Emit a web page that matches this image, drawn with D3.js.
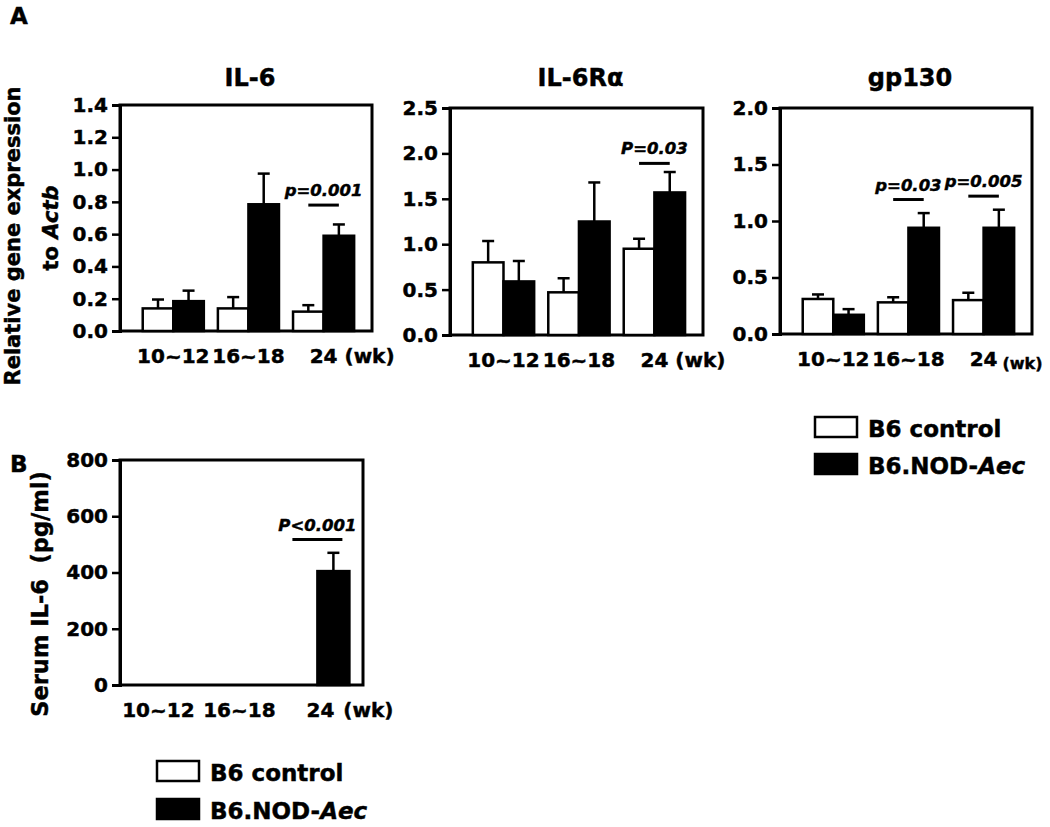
<!DOCTYPE html>
<html>
<head>
<meta charset="utf-8">
<script src="https://cdn.jsdelivr.net/npm/d3@7"></script>
<style>
  html, body { margin: 0; padding: 0; background: #fff; }
  svg { display: block; font-family: "DejaVu Sans", "Liberation Sans", sans-serif; font-weight: bold; }
  svg text { stroke: #000; stroke-width: 0.45px; fill: #000; }
</style>
</head>
<body>
<svg id="chart" width="1050" height="827"></svg>
<script>
// ---------------- DATA ----------------
const categories = ["10~12", "16~18", "24"];
const series = ["B6 control", "B6.NOD-Aec"];

const il6Control    = [0.14, 0.14, 0.12];
const il6ControlSem = [0.055, 0.07, 0.04];
const il6Nod        = [0.185, 0.785, 0.59];
const il6NodSem     = [0.065, 0.19, 0.07];

const il6raControl    = [0.80, 0.47, 0.95];
const il6raControlSem = [0.235, 0.155, 0.11];
const il6raNod        = [0.59, 1.25, 1.57];
const il6raNodSem     = [0.225, 0.43, 0.225];

const gp130Control    = [0.31, 0.28, 0.30];
const gp130ControlSem = [0.04, 0.045, 0.065];
const gp130Nod        = [0.17, 0.94, 0.94];
const gp130NodSem     = [0.05, 0.13, 0.16];

const serumControl    = [null, null, null];
const serumControlSem = [null, null, null];
const serumNod        = [null, null, 405];
const serumNodSem     = [null, null, 65];

const il6Ticks   = [0, 0.2, 0.4, 0.6, 0.8, 1.0, 1.2, 1.4];
const il6raTicks = [0, 0.5, 1.0, 1.5, 2.0, 2.5];
const gp130Ticks = [0, 0.5, 1.0, 1.5, 2.0];
const serumTicks = [0, 200, 400, 600, 800];

const il6Sig   = [{ group: "24", y: 0.78, label: "p=0.001" }];
const il6raSig = [{ group: "24", y: 1.89, label: "P=0.03" }];
const gp130Sig = [{ group: "16~18", y: 1.19, label: "p=0.03" }, { group: "24", y: 1.22, label: "p=0.005" }];
const serumSig = [{ group: "24", y: 517, label: "P<0.001" }];

const unitLabel = "(wk)";

// ---------------- DRAW ----------------
const svg = d3.select("#chart");

function drawPanel(cfg) {
  const g = svg.append("g");
  const x = d3.scaleBand().domain(categories).range([cfg.x0, cfg.x1])
    .paddingInner(cfg.pi).paddingOuter(cfg.po).align(cfg.align);
  const xs = d3.scaleBand().domain(series).range([0, x.bandwidth()]);
  const y = d3.scaleLinear().domain([cfg.ticks[0], cfg.ticks[cfg.ticks.length - 1]]).range([cfg.y1, cfg.y0]);

  // box
  g.append("rect").attr("x", cfg.x0).attr("y", cfg.y0)
    .attr("width", cfg.x1 - cfg.x0).attr("height", cfg.y1 - cfg.y0)
    .attr("fill", "none").attr("stroke", "#000").attr("stroke-width", 3);

  // y axis
  const ax = g.append("g").attr("transform", `translate(${cfg.x0},0)`)
    .call(d3.axisLeft(y).tickValues(cfg.ticks).tickFormat(d3.format(cfg.fmt)).tickSize(8).tickPadding(4));
  ax.select(".domain").attr("stroke-width", 3);
  ax.selectAll(".tick line").attr("stroke-width", 2.5);
  ax.selectAll(".tick text").attr("font-size", 20).attr("font-weight", "bold")
    .attr("font-family", "DejaVu Sans").attr("fill", "#000");

  // bars
  const rows = [];
  categories.forEach((c, i) => {
    rows.push({ cat: c, s: series[0], v: cfg.ctrl[i], e: cfg.ctrlSem[i], fill: "#fff" });
    rows.push({ cat: c, s: series[1], v: cfg.nod[i], e: cfg.nodSem[i], fill: "#000" });
  });
  const valid = rows.filter(d => d.v !== null);
  // error bars (upper only)
  const eb = g.append("g").attr("stroke", "#000").attr("stroke-width", 2.5);
  valid.forEach(d => {
    const cx = x(d.cat) + xs(d.s) + xs.bandwidth() / 2;
    eb.append("line").attr("x1", cx).attr("x2", cx).attr("y1", y(d.v)).attr("y2", y(d.v + d.e));
    eb.append("line").attr("x1", cx - 6).attr("x2", cx + 6).attr("y1", y(d.v + d.e)).attr("y2", y(d.v + d.e));
  });
  g.append("g").selectAll("rect").data(valid).join("rect")
    .attr("x", d => x(d.cat) + xs(d.s))
    .attr("y", d => y(d.v))
    .attr("width", xs.bandwidth())
    .attr("height", d => y(0) - y(d.v))
    .attr("fill", d => d.fill)
    .attr("stroke", "#000").attr("stroke-width", 2.5);

  // x labels
  categories.forEach((c, i) => {
    const cx = x(c) + x.bandwidth() / 2 + cfg.labelDx;
    const t = g.append("text").attr("x", cx).attr("y", cfg.y1 + 32)
      .attr("text-anchor", "middle").attr("font-size", 20).text(c);
    if (i === categories.length - 1) {
      const w = t.node().getComputedTextLength();
      g.append("text").attr("x", cx + w / 2 + cfg.unitGap).attr("y", cfg.y1 + 32 + cfg.unitDy)
        .attr("font-size", cfg.unitSize).text(unitLabel);
    }
  });

  // significance
  cfg.sig.forEach(s => {
    const xa = x(s.group) + xs(series[0]) + xs.bandwidth() / 2;
    const xb = x(s.group) + xs(series[1]) + xs.bandwidth() / 2;
    g.append("line").attr("x1", xa - cfg.sigExt).attr("x2", xb + cfg.sigExt)
      .attr("y1", y(s.y)).attr("y2", y(s.y)).attr("stroke", "#000").attr("stroke-width", 3);
    g.append("text").attr("x", (xa + xb) / 2).attr("y", y(s.y) - 9)
      .attr("text-anchor", "middle").attr("font-size", 16.5).attr("font-style", "italic").text(s.label);
  });

  // title
  if (cfg.title) {
    g.append("text").attr("x", (cfg.x0 + cfg.x1) / 2 + 4).attr("y", 86)
      .attr("text-anchor", "middle").attr("font-size", 24).text(cfg.title);
  }
}

const bandA = { pi: 0.187, po: 0.27, align: 0.56, labelDx: 0 };
drawPanel(Object.assign({ x0: 120, x1: 372, y0: 105, y1: 331, ticks: il6Ticks, fmt: ".1f",
  ctrl: il6Control, ctrlSem: il6ControlSem, nod: il6Nod, nodSem: il6NodSem,
  sig: il6Sig, title: "IL-6", unitSize: 20, unitDy: 0, unitGap: 7, sigExt: 0 }, bandA));
drawPanel(Object.assign({ x0: 450, x1: 703, y0: 108, y1: 335, ticks: il6raTicks, fmt: ".1f",
  ctrl: il6raControl, ctrlSem: il6raControlSem, nod: il6raNod, nodSem: il6raNodSem,
  sig: il6raSig, title: "IL-6R\u03B1", unitSize: 20, unitDy: 0, unitGap: 7, sigExt: 0 }, bandA));
drawPanel(Object.assign({ x0: 780, x1: 1032, y0: 108, y1: 334, ticks: gp130Ticks, fmt: ".1f",
  ctrl: gp130Control, ctrlSem: gp130ControlSem, nod: gp130Nod, nodSem: gp130NodSem,
  sig: gp130Sig, title: "gp130", unitSize: 16, unitDy: 3, unitGap: 5, sigExt: 0 }, bandA));
drawPanel({ x0: 120, x1: 363, y0: 460, y1: 685, ticks: serumTicks, fmt: "d",
  ctrl: serumControl, ctrlSem: serumControlSem, nod: serumNod, nodSem: serumNodSem,
  sig: serumSig, title: null, unitSize: 20, unitDy: 0, unitGap: 9, sigExt: 9,
  pi: 0.21, po: 0.105, align: 0.2, labelDx: 3 });

// axis titles
svg.append("text").attr("transform", "translate(20,236) rotate(-90)")
  .attr("text-anchor", "middle").attr("font-size", 21).text("Relative gene expression");
const yl2 = svg.append("text").attr("transform", "translate(58,228) rotate(-90)")
  .attr("text-anchor", "middle").attr("font-size", 21);
yl2.append("tspan").text("to ");
yl2.append("tspan").attr("font-style", "italic").text("Actb");

svg.append("text").attr("transform", "translate(48,594) rotate(-90)")
  .attr("text-anchor", "middle").attr("font-size", 22.5).attr("xml:space", "preserve")
  .style("white-space", "pre").text("Serum IL-6  (pg/ml)");

// panel letters
svg.append("text").attr("x", 10).attr("y", 24).attr("font-size", 23).text("A");
svg.append("text").attr("x", 10).attr("y", 472).attr("font-size", 23).text("B");

// legends
function legend(x, y1, y2) {
  const fills = ["#fff", "#000"];
  [y1, y2].forEach((yy, i) => {
    svg.append("rect").attr("x", x).attr("y", yy - 20).attr("width", 42).attr("height", 20)
      .attr("fill", fills[i]).attr("stroke", "#000").attr("stroke-width", 2.5);
    const t = svg.append("text").attr("x", x + 53).attr("y", yy).attr("font-size", 23);
    if (i === 0) {
      t.text(series[0]);
    } else {
      t.append("tspan").text("B6.NOD-");
      t.append("tspan").attr("font-style", "italic").text("Aec");
    }
  });
}
legend(815, 437, 474);
legend(157, 781, 819);
</script>
</body>
</html>
